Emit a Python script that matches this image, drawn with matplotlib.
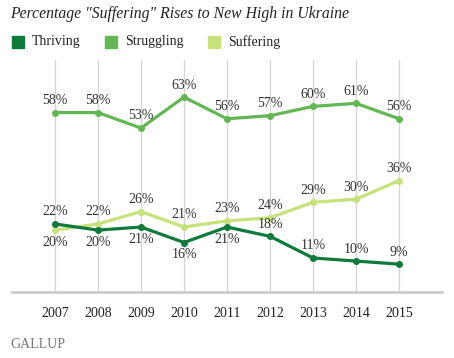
import matplotlib.pyplot as plt

# data
years = [2007, 2008, 2009, 2010, 2011, 2012, 2013, 2014, 2015]
thriving = [22, 20, 21, 16, 21, 18, 11, 10, 9]
struggling = [58, 58, 53, 63, 56, 57, 60, 61, 56]
suffering = [20, 22, 26, 21, 23, 24, 29, 30, 36]

# label above (+1) or below (-1) the point
thr_pos = [1, -1, -1, -1, -1, 1, 1, 1, 1]
suf_pos = [-1, 1, 1, 1, 1, 1, 1, 1, 1]

c_thr = '#0e7a3b'
c_str = '#62b752'
c_suf = '#c6e27a'

plt.rcParams['font.family'] = ['Liberation Serif', 'DejaVu Serif']

fig = plt.figure(figsize=(4.54, 3.58), dpi=100)
ax = fig.add_axes([12/454, 66/358, 430/454, 232/358])

ax.plot(years, struggling, color=c_str, lw=2.3, marker='o', ms=4, zorder=3)
ax.plot(years, suffering, color=c_suf, lw=2.3, marker='o', ms=4, zorder=3)
ax.plot(years, thriving, color=c_thr, lw=2.3, marker='o', ms=4, zorder=4)

def labels(vals, pos):
    for x, v, p in zip(years, vals, pos):
        off = 4 if p > 0 else -4
        ax.annotate('%d%%' % v, (x, v), xytext=(0, off), textcoords='offset points',
                    ha='center', va='bottom' if p > 0 else 'top', fontsize=10, color='#333333')

labels(struggling, [1] * 9)
labels(thriving, thr_pos)
labels(suffering, suf_pos)

ax.set_xlim(2006, 2016)
ax.set_ylim(0, 75)
ax.set_xticks(years)
ax.set_xticklabels([str(y) for y in years], fontsize=10, color='#222222')
ax.set_yticks([])
ax.tick_params(axis='x', length=0, pad=11)
ax.grid(axis='x', color='#d4d4d4', lw=0.9)
for s in ['top', 'left', 'right']:
    ax.spines[s].set_visible(False)
ax.spines['bottom'].set_color('#cccccc')
ax.spines['bottom'].set_linewidth(2)

fig.text(10/454, 1 - 14/358, 'Percentage "Suffering" Rises to New High in Ukraine',
         fontsize=11.3, style='italic', va='center', color='#222222')

# legend
for x, name, c in [(12, 'Thriving', c_thr), (105, 'Struggling', c_str), (208, 'Suffering', c_suf)]:
    fig.patches.append(plt.Rectangle((x/454, 1 - 48/358), 12/454, 12/358,
                                     transform=fig.transFigure, color=c))
    fig.text((x + 20)/454, 1 - 42/358, name, fontsize=10, va='center', color='#222222')

fig.text(10/454, 1 - 345/358, 'GALLUP', fontsize=10, va='center', color='#777777')

fig.savefig('out.png', dpi=100)
